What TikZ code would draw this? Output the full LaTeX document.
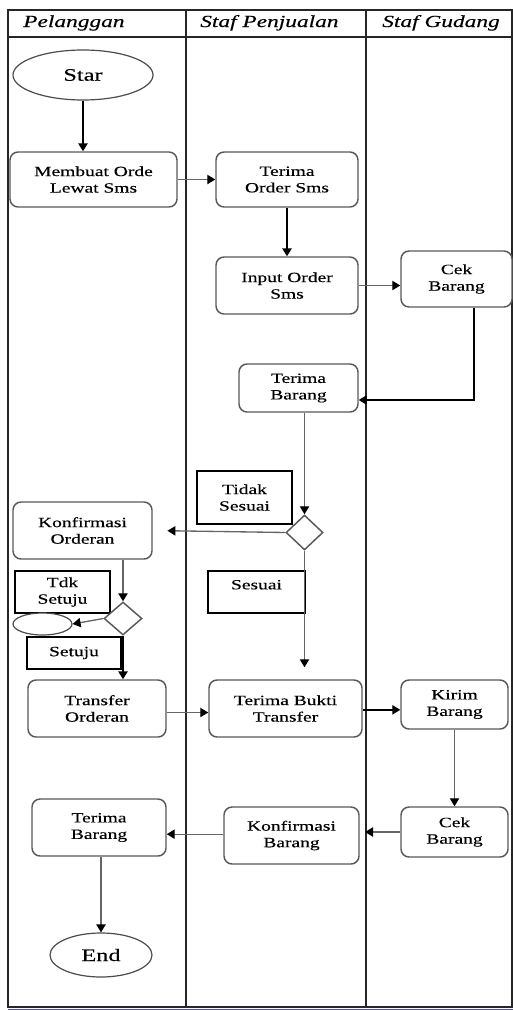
\documentclass[tikz,border=0pt]{standalone}
\usepackage{fontspec}
\setmainfont{Liberation Serif}[FakeStretch=1.38, FakeBold=0.3]
\usetikzlibrary{arrows.meta,shapes.geometric}
\begin{document}
\begin{tikzpicture}[x=0.75pt,y=-0.75pt,
  sz/.style 2 args={minimum width=#1*0.75pt, minimum height=#2*0.75pt},
  txt/.style={font=\fontsize{10.6}{12.4}\selectfont, align=center, inner sep=0pt},
  act/.style={txt, draw=black!65, line width=1.1pt, rounded corners=6pt, fill=white},
  term/.style={txt, ellipse, draw=black!70, line width=0.9pt, fill=white, font=\fontsize{13.2}{15}\selectfont},
  guard/.style={txt, draw=black, line width=1.1pt, fill=white},
  dec/.style={diamond, draw=black!65, line width=1.1pt, fill=white, inner sep=0pt},
  lane/.style={line width=1.6pt, draw=black!85},
  head/.style={font=\fontsize{12.7}{15}\selectfont\itshape, anchor=base west, inner sep=0pt},
  arr/.style={-{Triangle[length=6pt,width=7pt]}, line width=1.3pt, draw=black},
  arrg/.style={-{Triangle[length=6pt,width=7pt,color=black]}, line width=1pt, draw=black!60}
]
\useasboundingbox (0,0) rectangle (513,1010);

% swimlane frame
\draw[lane] (8,10) rectangle (512,1007);
\draw[lane] (8,37) -- (512,37);
\draw[lane] (186,10) -- (186,1007);
\draw[lane] (366,10) -- (366,1007);
\draw[blue!60!black!70, line width=0.8pt] (8,1009.5) -- (513,1009.5);

\node[head] (h1) at (23,27) {Pelanggan};
\node[head] (h2) at (200,27) {Staf Penjualan};
\node[head] (h3) at (382,27) {Staf Gudang};

% activities
\node[term, sz={140}{50}] (star) at (83,75) {Star};
\node[act, sz={167}{55}] (membuat) at (93.5,179.5) {Membuat Orde\\Lewat Sms};
\node[act, sz={142}{55}] (terimaorder) at (287,179.5) {Terima\\Order Sms};
\node[act, sz={142}{57}] (input) at (287,285.5) {Input Order\\Sms};
\node[act, sz={111}{56}] (cek1) at (456.5,279) {Cek\\Barang};
\node[act, sz={119}{48}] (terimabrg) at (298.5,388) {Terima\\Barang};

\node[guard, sz={95}{53}] (tidak) at (244.5,497.5) {Tidak\\Sesuai};
\node[dec, sz={37}{35}] (dia1) at (304.5,532.5) {};
\node[act, sz={139}{57}] (konford) at (82.5,530.5) {Konfirmasi\\Orderan};

\node[guard, sz={95}{42}] (tdk) at (62.5,592) {Tdk\\Setuju};
\node[dec, sz={38}{33}] (dia2) at (123,618.5) {};
\node[term, sz={59}{22}] (batal) at (42.5,624) {};
\node[guard, sz={94}{32}] (setuju) at (74,653) {Setuju};
\node[guard, sz={97}{42}, text depth=11pt] (sesuai) at (256.5,592) {Sesuai};

\node[act, sz={138}{57}] (transfer) at (97,708.5) {Transfer\\Orderan};
\node[act, sz={153}{57}] (bukti) at (285.5,708.5) {Terima Bukti\\Transfer};
\node[act, sz={107}{49}] (kirim) at (454.5,704.5) {Kirim\\Barang};
\node[act, sz={107}{50}] (cek2) at (454.5,832) {Cek\\Barang};
\node[act, sz={135}{57}] (konfbrg) at (291.5,835.5) {Konfirmasi\\Barang};
\node[act, sz={134}{57}] (terimaplg) at (99,827.5) {Terima\\Barang};
\node[term, sz={102}{44}] (end) at (101,955) {End};

% flows
\draw[arr] (star.south) -- (star.south |- membuat.north);
\draw[arrg] (membuat.east) -- (terimaorder.west);
\draw[arr] (terimaorder.south) -- (input.north);
\draw[arrg] (input.east) -- (input.east -| cek1.west);
\draw[arr] ([xshift=13pt]cek1.south) |- ([yshift=-9pt]terimabrg.east);
\draw[arrg] (dia1.north |- terimabrg.south) -- (dia1.north);
\draw[arrg, shorten >=11pt] (dia1.west) -- (konford.east);
\draw[arrg] (dia2.north |- konford.south) -- (dia2.north);
\draw[arrg] (dia2.west) -- (batal.east);
\draw[arr] (dia2.south) -- (dia2.south |- transfer.north);
\draw[arrg, shorten >=9pt] (dia1.south) -- (dia1.south |- bukti.north);
\draw[arrg] ([yshift=-3pt]transfer.east) -- ([yshift=-3pt]bukti.west);
\draw[arr, line width=1pt] ([yshift=-1pt]bukti.east) -- ([yshift=-1pt]bukti.east -| kirim.west);
\draw[arrg] (kirim.south) -- (cek2.north);
\draw[arrg, shorten >=4pt] (cek2.west) -- (cek2.west -| konfbrg.east);
\draw[arrg] ([yshift=1pt]konfbrg.west) -- ([yshift=1pt]konfbrg.west -| terimaplg.east);
\draw[arrg] (end.north |- terimaplg.south) -- (end.north);
\end{tikzpicture}
\end{document}
